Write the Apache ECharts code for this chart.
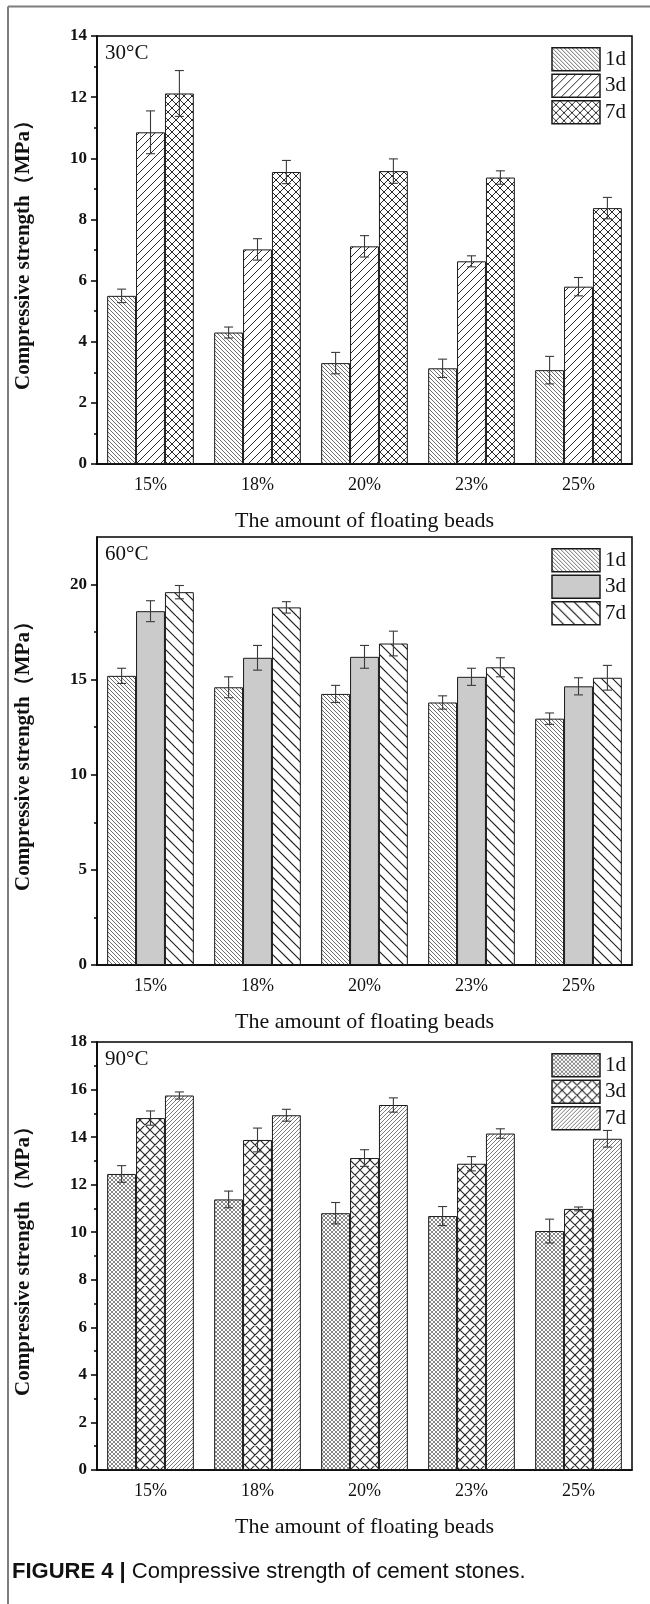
<!DOCTYPE html>
<html>
<head>
<meta charset="utf-8">
<script src="https://cdn.jsdelivr.net/npm/echarts@6/dist/echarts.min.js"></script>
<style>
html, body { margin: 0; padding: 0; background: #fff; }
#chart { width: 650px; height: 1604px; }
</style>
</head>
<body>
<div id="chart"></div>
<script>
// ---- data ----
const categories = ['15%', '18%', '20%', '23%', '25%'];
const ages = ['1d', '3d', '7d'];
const temps = ['30°C', '60°C', '90°C'];

// 30 °C curing
const s30_1d = [5.5, 4.3, 3.3, 3.13, 3.07];
const s30_3d = [10.85, 7.02, 7.12, 6.63, 5.8];
const s30_7d = [12.12, 9.55, 9.58, 9.37, 8.37];
const e30_1d = [0.22, 0.18, 0.35, 0.3, 0.45];
const e30_3d = [0.7, 0.35, 0.35, 0.18, 0.3];
const e30_7d = [0.75, 0.38, 0.4, 0.22, 0.35];

// 60 °C curing
const s60_1d = [15.2, 14.6, 14.25, 13.8, 12.95];
const s60_3d = [18.6, 16.15, 16.2, 15.15, 14.65];
const s60_7d = [19.6, 18.8, 16.9, 15.65, 15.1];
const e60_1d = [0.4, 0.55, 0.45, 0.35, 0.3];
const e60_3d = [0.55, 0.65, 0.6, 0.45, 0.45];
const e60_7d = [0.35, 0.3, 0.65, 0.5, 0.65];

// 90 °C curing
const s90_1d = [12.45, 11.38, 10.8, 10.68, 10.05];
const s90_3d = [14.8, 13.88, 13.12, 12.88, 10.98];
const s90_7d = [15.75, 14.92, 15.35, 14.15, 13.93];
const e90_1d = [0.35, 0.35, 0.45, 0.4, 0.5];
const e90_3d = [0.3, 0.5, 0.35, 0.3, 0.08];
const e90_7d = [0.15, 0.25, 0.3, 0.2, 0.35];

// value axes: upper bound, labelled ticks, small ticks
const yMax = [14, 22.5, 18];
const yMajor30 = [0, 2, 4, 6, 8, 10, 12, 14];
const yMinor30 = [1, 3, 5, 7, 9, 11, 13];
const yMajor60 = [0, 5, 10, 15, 20];
const yMinor60 = [2.5, 7.5, 12.5, 17.5];
const yMajor90 = [0, 2, 4, 6, 8, 10, 12, 14, 16, 18];
const yMinor90 = [1, 3, 5, 7, 9, 11, 13, 15, 17];

const xTitle = 'The amount of floating beads';
const yTitle = 'Compressive strength（MPa）';
const captionLead = 'FIGURE 4 |';
const captionText = ' Compressive strength of cement stones.';

// ---- fill patterns ----
function hatch(step, dirs, color, lineWidth, bg) {
  const size = step * 4;
  const c = document.createElement('canvas');
  c.width = size; c.height = size;
  const g = c.getContext('2d');
  g.fillStyle = bg || '#fff';
  g.fillRect(0, 0, size, size);
  g.strokeStyle = color;
  g.lineWidth = lineWidth;
  g.beginPath();
  for (let k = -size; k <= 2 * size; k += step) {
    if (dirs.indexOf('\\') >= 0) { g.moveTo(k, 0); g.lineTo(k + size, size); }
    if (dirs.indexOf('/') >= 0) { g.moveTo(k, size); g.lineTo(k + size, 0); }
  }
  g.stroke();
  return { image: c, repeat: 'repeat' };
}

const fills = [
  [hatch(4, '\\', '#6d6d6d', 1), hatch(8, '/', '#2a2a2a', 1), hatch(8, '\\/', '#2a2a2a', 1)],
  [hatch(4, '\\', '#6d6d6d', 1), '#cbcbcb', hatch(11, '\\', '#1f1f1f', 1.2)],
  [hatch(4, '\\/', '#7a7a7a', 0.9), hatch(10, '\\/', '#2a2a2a', 1.1), hatch(4, '/', '#7a7a7a', 1)]
];

const values = [[s30_1d, s30_3d, s30_7d], [s60_1d, s60_3d, s60_7d], [s90_1d, s90_3d, s90_7d]];
const errors = [[e30_1d, e30_3d, e30_7d], [e60_1d, e60_3d, e60_7d], [e90_1d, e90_3d, e90_7d]];
const majors = [yMajor30, yMajor60, yMajor90];
const minors = [yMinor30, yMinor60, yMinor90];

// ---- layout ----
const gridTops = [36, 537, 1042];
const gridHeight = 428;
const gridLeft = 97, gridRight = 18;
const catGap = 0.19;
const serif = 'Liberation Serif, Times New Roman, serif';
const ink = '#111';

function errorBar(slot) {
  return function (params, api) {
    const cat = api.value(0), v = api.value(1), e = api.value(2);
    const band = api.size([1, 0])[0];
    const barW = band * (1 - catGap) / 3;
    const x = api.coord([cat, v])[0] + (slot - 1) * barW;
    const yTop = api.coord([cat, v + e])[1];
    const yBot = api.coord([cat, v - e])[1];
    const cap = 4.5;
    const style = { stroke: '#3a3a3a', lineWidth: 1.1 };
    return {
      type: 'group',
      children: [
        { type: 'line', shape: { x1: x, y1: yTop, x2: x, y2: yBot }, style },
        { type: 'line', shape: { x1: x - cap, y1: yTop, x2: x + cap, y2: yTop }, style },
        { type: 'line', shape: { x1: x - cap, y1: yBot, x2: x + cap, y2: yBot }, style }
      ]
    };
  };
}

const grids = [], xAxes = [], yAxes = [], series = [], legends = [], graphics = [];

for (let p = 0; p < 3; p++) {
  grids.push({
    left: gridLeft, right: gridRight, top: gridTops[p], height: gridHeight,
    show: true, borderColor: '#000', borderWidth: 1.5, backgroundColor: 'transparent'
  });
  xAxes.push({
    type: 'category', gridIndex: p, position: 'bottom', data: categories,
    axisLine: { lineStyle: { color: '#000', width: 1.5 } },
    axisTick: { alignWithLabel: true, length: 5, lineStyle: { color: '#000', width: 1.5 } },
    axisLabel: { fontFamily: serif, fontSize: 18, color: ink, margin: 12 },
    name: xTitle, nameLocation: 'middle', nameGap: 46,
    nameTextStyle: { fontFamily: serif, fontSize: 22, color: ink }
  });
  // short ticks on the category boundaries
  xAxes.push({
    type: 'category', gridIndex: p, position: 'bottom', offset: 0, data: categories,
    axisLine: { show: false },
    axisTick: { alignWithLabel: false, length: 3, lineStyle: { color: '#000', width: 1.5 } },
    axisLabel: { show: false }
  });
  yAxes.push({
    type: 'value', gridIndex: p, position: 'left', min: 0, max: yMax[p],
    axisLine: { show: true, lineStyle: { color: '#000', width: 1.5 } },
    axisTick: { show: true, customValues: majors[p], length: 6, lineStyle: { color: '#000', width: 1.5 } },
    axisLabel: { customValues: majors[p], fontFamily: serif, fontWeight: 'bold', fontSize: 17, color: ink, margin: 10 },
    splitLine: { show: false },
    name: yTitle, nameLocation: 'middle', nameGap: 63,
    nameTextStyle: { fontFamily: serif, fontWeight: 'bold', fontSize: 21, color: ink }
  });
  // short ticks between the labelled ones
  yAxes.push({
    type: 'value', gridIndex: p, position: 'left', offset: 0, min: 0, max: yMax[p],
    axisLine: { show: false },
    axisTick: { show: true, customValues: minors[p], length: 3, lineStyle: { color: '#000', width: 1.5 } },
    axisLabel: { show: false },
    splitLine: { show: false }
  });

  const names = ages.map(a => temps[p] + ' ' + a);
  for (let a = 0; a < 3; a++) {
    series.push({
      type: 'bar', name: names[a], xAxisIndex: 2 * p, yAxisIndex: 2 * p,
      data: values[p][a], barGap: '0%', barCategoryGap: (catGap * 100) + '%',
      itemStyle: { color: fills[p][a], borderColor: '#1a1a1a', borderWidth: 1 },
      emphasis: { disabled: true }, z: 2
    });
  }
  for (let a = 0; a < 3; a++) {
    series.push({
      type: 'custom', name: names[a] + ' error', xAxisIndex: 2 * p, yAxisIndex: 2 * p,
      data: categories.map((c, i) => [i, values[p][a][i], errors[p][a][i]]),
      encode: { x: 0, y: 1 }, renderItem: errorBar(a), z: 5, silent: true
    });
  }
  legends.push({
    data: names, orient: 'vertical', right: 19, top: gridTops[p] + 6,
    itemWidth: 48, itemHeight: 23, itemGap: 2, icon: 'rect', selectedMode: false,
    formatter: n => n.split(' ')[1],
    itemStyle: { borderColor: '#1a1a1a', borderWidth: 1.5 },
    textStyle: { fontFamily: serif, fontSize: 21, color: ink }
  });
  graphics.push({
    type: 'text', left: gridLeft + 8, top: gridTops[p] + 7,
    style: { text: temps[p], font: '21px ' + serif, fill: ink }
  });
}

// figure frame and caption
graphics.push({ type: 'line', shape: { x1: 8, y1: 6.5, x2: 650, y2: 6.5 }, style: { stroke: '#7d7d7d', lineWidth: 2 } });
graphics.push({ type: 'line', shape: { x1: 8, y1: 6.5, x2: 8, y2: 1604 }, style: { stroke: '#7d7d7d', lineWidth: 2 } });
graphics.push({
  type: 'text', left: 12, top: 1561,
  style: {
    text: '{b|' + captionLead + '}{r|' + captionText + '}',
    rich: {
      b: { fontFamily: 'Liberation Sans, Arial, sans-serif', fontWeight: 'bold', fontSize: 22, fill: '#111' },
      r: { fontFamily: 'Liberation Sans, Arial, sans-serif', fontSize: 22, fill: '#111' }
    }
  }
});

const chart = echarts.init(document.getElementById('chart'), null, { renderer: 'canvas' });
chart.setOption({
  animation: false,
  backgroundColor: '#fff',
  grid: grids, xAxis: xAxes, yAxis: yAxes,
  legend: legends, series: series, graphic: graphics
});
</script>
</body>
</html>
